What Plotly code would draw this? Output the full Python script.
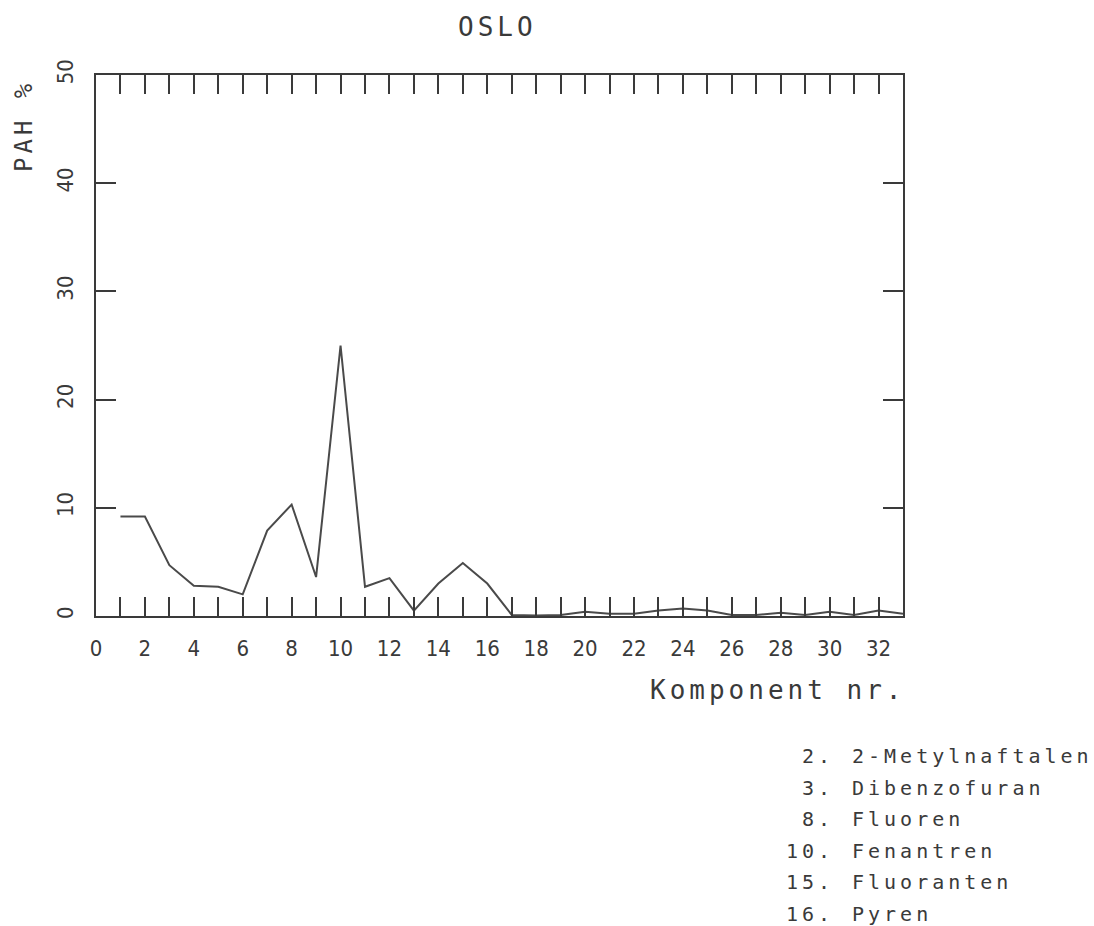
import plotly.graph_objects as go

# ---- data ----
komponent = list(range(1, 34))
pah_pct = [9.2, 9.2, 4.7, 2.8, 2.7, 2.0, 7.9, 10.3, 3.6, 25.0,
           2.7, 3.5, 0.5, 3.0, 4.9, 3.0, 0.1, 0.05, 0.1, 0.4,
           0.2, 0.2, 0.5, 0.7, 0.5, 0.1, 0.1, 0.3, 0.1, 0.4,
           0.1, 0.5, 0.2]
x_tickvals = list(range(0, 34))
x_ticktext = [str(v) if (v % 2 == 0 and v <= 32) else "" for v in x_tickvals]
y_tickvals = [0, 10, 20, 30, 40, 50]
y_ticktext = ["0", "10", "20", "30", "40", "50"]
legend_nums = ["2.", "3.", "8.", "10.", "15.", "16."]
legend_names = ["2-Metylnaftalen", "Dibenzofuran", "Fluoren", "Fenantren", "Fluoranten", "Pyren"]
title_text = "OSLO"
x_title = "Komponent nr."
y_title = "PAH %"

W, H = 1094, 926
L, R, T, B = 96, 903, 75, 616
FONT = "DejaVu Sans Mono"
TICKFONT = "DejaVu Sans Condensed"
INK = "#3a3a3a"


def px(xp):
    return (xp - L) / (R - L)


def py(yp):
    return (B - yp) / (B - T)


fig = go.Figure()
fig.add_trace(go.Scatter(x=komponent, y=pah_pct, mode="lines",
                         line=dict(color="#4a4a4a", width=2), showlegend=False,
                         cliponaxis=False))

fig.update_layout(
    width=W, height=H,
    margin=dict(l=L, r=W - R, t=T, b=H - B, pad=0),
    paper_bgcolor="white", plot_bgcolor="white",
    font=dict(family=FONT, color=INK),
    showlegend=False,
)
fig.update_xaxes(range=[0, 33], tickmode="array", tickvals=x_tickvals, ticktext=x_ticktext,
                 ticks="inside", ticklen=19, tickwidth=2, tickcolor=INK,
                 showline=True, linewidth=2, linecolor=INK, mirror="ticks",
                 showgrid=False, zeroline=False, automargin=False,
                 tickfont=dict(family=TICKFONT, size=22, color=INK), ticklabelstandoff=12)
fig.update_yaxes(range=[0, 50], tickmode="array", tickvals=y_tickvals, ticktext=y_ticktext,
                 ticks="inside", ticklen=20, tickwidth=2, tickcolor=INK,
                 showline=True, linewidth=2, linecolor=INK, mirror="ticks",
                 showgrid=False, zeroline=False, tickangle=-90, automargin=False,
                 tickfont=dict(family=TICKFONT, size=22, color=INK), ticklabelstandoff=12)

ann = []
ann.append(dict(text=title_text, x=px(497), y=py(27), xref="paper", yref="paper",
                xanchor="center", yanchor="middle", showarrow=False,
                font=dict(family=FONT, size=26, color=INK)))
ann.append(dict(text=x_title, x=px(908), y=py(690), xref="paper", yref="paper",
                xanchor="right", yanchor="middle", align="right", showarrow=False,
                font=dict(family=FONT, size=26, color=INK)))
ann.append(dict(text=y_title, x=px(24), y=py(126), xref="paper", yref="paper",
                xanchor="center", yanchor="middle", showarrow=False, textangle=-90,
                font=dict(family=FONT, size=24, color=INK)))
for i, (n, name) in enumerate(zip(legend_nums, legend_names)):
    yy = 756 + i * 31.5
    ann.append(dict(text=n, x=px(836), y=py(yy), xref="paper", yref="paper",
                    xanchor="right", yanchor="middle", align="right", showarrow=False,
                    font=dict(family=FONT, size=20, color=INK)))
    ann.append(dict(text=name, x=px(850), y=py(yy), xref="paper", yref="paper",
                    xanchor="left", yanchor="middle", align="left", showarrow=False,
                    font=dict(family=FONT, size=20, color=INK)))
fig.update_layout(annotations=ann)

# wide plotter-style letter spacing for the annotation texts
post = ("var s=document.createElement('style');"
        "s.textContent='.annotation-text{letter-spacing:4px}';"
        "document.head.appendChild(s);")
fig.write_html("out.html", post_script=post)
